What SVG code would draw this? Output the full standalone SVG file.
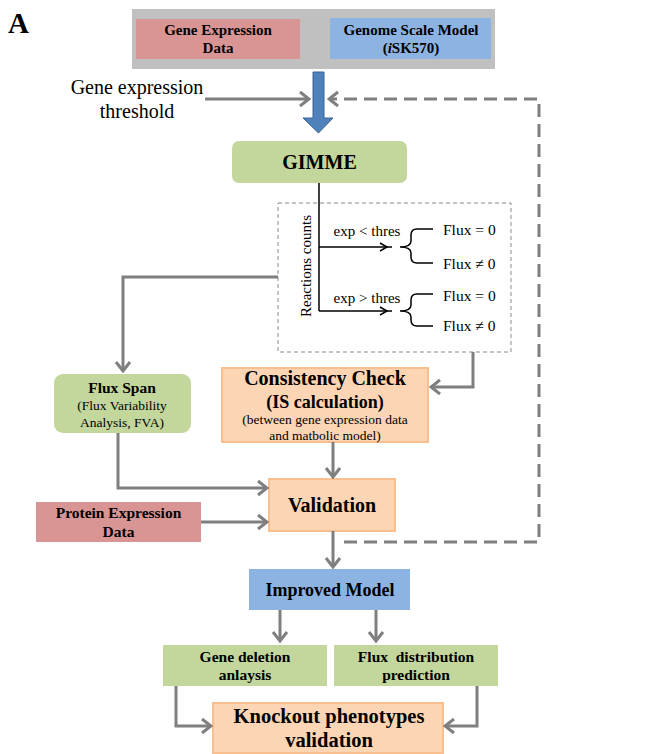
<svg xmlns="http://www.w3.org/2000/svg" width="648" height="754" viewBox="0 0 648 754">
<defs>
<style>
.t{font-family:"Liberation Serif","Times New Roman",serif;fill:#000}
.b{font-weight:bold}
.c{text-anchor:middle}
.ln{fill:none;stroke:#7f7f7f;stroke-width:3}
.bk{fill:none;stroke:#000;stroke-width:1.5}
.pink{fill:#d99594}
.blue{fill:#8db3e2}
.green{fill:#c3d69b}
.orange{fill:#fcd5b5;stroke:#f9bf8f;stroke-width:2}
</style>
<marker id="ah" markerUnits="userSpaceOnUse" viewBox="-12 -9 14 18" refX="0" refY="0" markerWidth="14" markerHeight="18" orient="auto">
<path d="M-9,-7 L0,0 L-9,7" fill="none" stroke="#7f7f7f" stroke-width="3"/>
</marker>
</defs>
<text class="t b" x="8" y="33" font-size="29">A</text>
<g id="inputs">
<rect x="132" y="9" width="363" height="60" fill="#c0c0c0"/>
</g>
<g id="gene-expression-data">
<rect class="pink" x="136" y="19" width="164" height="40"/>
<text class="t b c" x="218" y="35" font-size="15">Gene Expression</text>
<text class="t b c" x="218" y="53" font-size="15">Data</text>
</g>
<g id="genome-scale-model">
<rect class="blue" x="330" y="18" width="161" height="41"/>
<text class="t b c" x="411" y="35" font-size="15">Genome Scale Model</text>
<text class="t b c" x="411" y="53" font-size="15">(<tspan font-style="italic">i</tspan>SK570)</text>
</g>
<g id="threshold">
<text class="t c" x="137" y="94" font-size="20">Gene expression</text>
<text class="t c" x="137" y="118" font-size="20">threshold</text>
</g>
<g id="big-arrow">
<polygon points="313,72 324,72 324,118 333,118 318.5,133 303,118 313,118" fill="#4f81bd" stroke="#3a6290" stroke-width="1"/>
</g>
<g id="gimme">
<rect class="green" x="232" y="141" width="175" height="42" rx="7"/>
<text class="t b c" x="319.5" y="169" font-size="20">GIMME</text>
</g>
<g id="reaction-counts">
<rect x="278" y="203" width="233" height="149" fill="none" stroke="#8a8a8a" stroke-width="1" stroke-dasharray="4 3"/>
<path class="bk" d="M319,183 V311 M319,247 H392 M319,311 H392"/>
<path class="bk" d="M380,243 L387,247 L380,251 M380,307 L387,311 L380,315"/>
<path class="bk" d="M433,229 H417 Q411,229 411,235 V241 Q411,247 400,247 Q411,247 411,253 V257 Q411,263 417,263 H433"/>
<path class="bk" d="M433,294 H417 Q411,294 411,300 V305 Q411,311 400,311 Q411,311 411,317 V320 Q411,326 417,326 H433"/>
<text class="t c" transform="translate(311,266) rotate(-90)" font-size="15">Reactions  counts</text>
<text class="t c" x="367" y="236" font-size="15">exp &lt; thres</text>
<text class="t c" x="367" y="303" font-size="15">exp &gt; thres</text>
<text class="t" x="443" y="235" font-size="15.5">Flux = 0</text>
<text class="t" x="443" y="269" font-size="15.5">Flux ≠ 0</text>
<text class="t" x="443" y="301" font-size="15.5">Flux = 0</text>
<text class="t" x="443" y="331" font-size="15.5">Flux ≠ 0</text>
</g>
<g id="flux-span">
<rect class="green" x="54" y="374" width="137" height="59" rx="9"/>
<text class="t b c" x="122" y="393" font-size="15.5">Flux Span</text>
<text class="t c" x="122" y="410" font-size="13.5">(Flux Variability</text>
<text class="t c" x="122" y="427" font-size="13.5">Analysis, FVA)</text>
</g>
<g id="consistency-check">
<rect class="orange" x="222" y="368" width="206" height="74"/>
<text class="t b c" x="325" y="385" font-size="20">Consistency Check</text>
<text class="t b c" x="325" y="408" font-size="18">(IS calculation)</text>
<text class="t c" x="325" y="424" font-size="13.5">(between gene expression data</text>
<text class="t c" x="325" y="440" font-size="13.5">and matbolic model)</text>
</g>
<g id="protein-expression-data">
<rect class="pink" x="36" y="502" width="165" height="40"/>
<text class="t b c" x="118.5" y="518" font-size="15.5">Protein Expression</text>
<text class="t b c" x="118.5" y="537" font-size="15.5">Data</text>
</g>
<g id="validation">
<rect class="orange" x="269" y="479" width="126" height="52"/>
<text class="t b c" x="332" y="512" font-size="20">Validation</text>
</g>
<g id="improved-model">
<rect class="blue" x="249" y="569" width="161" height="41"/>
<text class="t b c" x="330" y="596" font-size="18">Improved Model</text>
</g>
<g id="gene-deletion">
<rect class="green" x="163" y="645" width="164" height="41"/>
<text class="t b c" x="245" y="662" font-size="15.5">Gene deletion</text>
<text class="t b c" x="245" y="680" font-size="15.5">anlaysis</text>
</g>
<g id="flux-distribution">
<rect class="green" x="334" y="645" width="164" height="41"/>
<text class="t b c" x="416" y="662" font-size="15.5" style="white-space:pre">Flux  distribution</text>
<text class="t b c" x="416" y="680" font-size="15.5">prediction</text>
</g>
<g id="knockout">
<rect class="orange" x="213" y="703" width="230" height="50"/>
<text class="t b c" x="329" y="723" font-size="20.5">Knockout phenotypes</text>
<text class="t b c" x="329" y="747" font-size="20.5">validation</text>
</g>
<g id="connectors">
<path class="ln" d="M205,99 H309" marker-end="url(#ah)"/>
<path class="ln" d="M344,542 H539 V99 H329" stroke-dasharray="13 7" marker-end="url(#ah)"/>
<path class="ln" d="M278,277 H123 V371" marker-end="url(#ah)"/>
<path class="ln" d="M473,352 V387 H431" marker-end="url(#ah)"/>
<path class="ln" d="M118,433 V488 H267" marker-end="url(#ah)"/>
<path class="ln" d="M201,522 H267" marker-end="url(#ah)"/>
<path class="ln" d="M333,442 V477" marker-end="url(#ah)"/>
<path class="ln" d="M333,531 V567" marker-end="url(#ah)"/>
<path class="ln" d="M280,610 V641" marker-end="url(#ah)"/>
<path class="ln" d="M376,610 V641" marker-end="url(#ah)"/>
<path class="ln" d="M176,686 V726 H211" marker-end="url(#ah)"/>
<path class="ln" d="M477,686 V726 H445" marker-end="url(#ah)"/>
</g>
</svg>
